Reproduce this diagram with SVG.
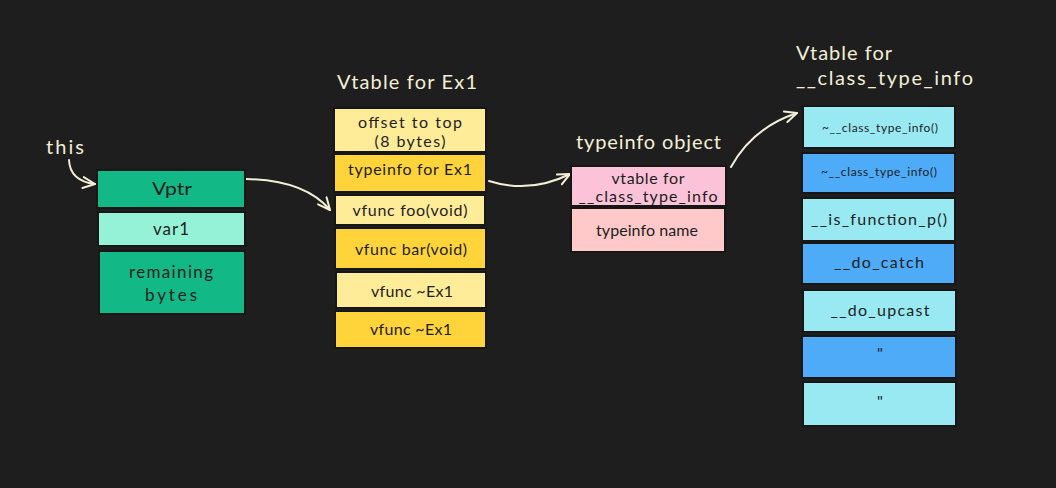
<svg xmlns="http://www.w3.org/2000/svg" width="1056" height="488" viewBox="0 0 1056 488">
<defs>
<marker id="ah" viewBox="0 0 14 14" refX="13" refY="7" markerWidth="14" markerHeight="14" markerUnits="userSpaceOnUse" orient="auto">
<path d="M1,1.5 L13,7 L1,12.5" fill="none" stroke="#f2efd6" stroke-width="2" stroke-linecap="round" stroke-linejoin="round"/>
</marker>
<style>
.box{stroke:#161616;stroke-width:2}
.t{font-family:"Lato","Liberation Sans",sans-serif;fill:#1e1e1e;text-anchor:middle;dominant-baseline:central}
.title{font-family:"Lato","Liberation Sans",sans-serif;fill:#f2efd6;font-size:20px}
.conn{fill:none;stroke:#f2efd6;stroke-width:2;stroke-linecap:round;marker-end:url(#ah)}
.g1{fill:#12b886}.g2{fill:#96f2d7}
.y1{fill:#ffec99}.y2{fill:#ffd43b}
.pk{fill:#fcc2d7}.rd{fill:#ffc9c9}
.c1{fill:#99e9f2}.b1{fill:#4dabf7}
</style>
</defs>
<rect width="1056" height="488" fill="#1e1e1e"/>

<text class="title" x="46" y="154" textLength="38" lengthAdjust="spacing">this</text>
<text class="title" x="337" y="89" textLength="140" lengthAdjust="spacing">Vtable for Ex1</text>
<text class="title" x="576" y="149" textLength="145" lengthAdjust="spacing">typeinfo object</text>
<text class="title" x="796" y="60" textLength="96" lengthAdjust="spacing">Vtable for</text>
<text class="title" x="796" y="85" textLength="177" lengthAdjust="spacing">__class_type_info</text>

<g id="connectors">
<path class="conn" d="M69,160 Q70,181 95,184"/>
<path class="conn" d="M246,179 Q305,180 330,210"/>
<path class="conn" d="M489,181 Q530,194 570,174"/>
<path class="conn" d="M731,167 Q752,128 797,113"/>
</g>

<g id="obj-vptr"><rect class="box g1" x="97" y="170" width="148" height="38"/><text class="t" x="172" y="188" font-size="18" textLength="40" lengthAdjust="spacingAndGlyphs">Vptr</text></g>
<g id="obj-var1"><rect class="box g2" x="98" y="212" width="147" height="34"/><text class="t" x="171" y="228" font-size="17" textLength="36" lengthAdjust="spacing">var1</text></g>
<g id="obj-rem"><rect class="box g1" x="99" y="251" width="146" height="63"/><text class="t" x="171" y="271" font-size="17" textLength="84" lengthAdjust="spacing">remaining</text><text class="t" x="171" y="294" font-size="17" textLength="52" lengthAdjust="spacing">bytes</text></g>

<g id="vt-offset"><rect class="box y1" x="334" y="108" width="152" height="44"/><text class="t" x="410" y="121" font-size="16" textLength="104" lengthAdjust="spacing">offset to top</text><text class="t" x="410" y="140" font-size="16" textLength="71" lengthAdjust="spacing">(8 bytes)</text></g>
<g id="vt-typeinfo"><rect class="box y2" x="334" y="154" width="152" height="38"/><text class="t" x="410" y="168" font-size="16" textLength="124" lengthAdjust="spacing">typeinfo for Ex1</text></g>
<g id="vt-foo"><rect class="box y1" x="335" y="195" width="150" height="30"/><text class="t" x="410" y="209" font-size="16" textLength="115" lengthAdjust="spacing">vfunc foo(void)</text></g>
<g id="vt-bar"><rect class="box y2" x="335" y="228" width="151" height="41"/><text class="t" x="411" y="248" font-size="16" textLength="112" lengthAdjust="spacing">vfunc bar(void)</text></g>
<g id="vt-dtor1"><rect class="box y1" x="336" y="272" width="150" height="36"/><text class="t" x="412" y="290" font-size="16" textLength="82" lengthAdjust="spacing">vfunc ~Ex1</text></g>
<g id="vt-dtor2"><rect class="box y2" x="335" y="311" width="151" height="37"/><text class="t" x="411" y="328" font-size="16" textLength="82" lengthAdjust="spacing">vfunc ~Ex1</text></g>

<g id="ti-vtable"><rect class="box pk" x="571" y="166" width="155" height="40"/><text class="t" x="648" y="177" font-size="16" textLength="73" lengthAdjust="spacing">vtable for</text><text class="t" x="648" y="195" font-size="16" textLength="139" lengthAdjust="spacing">__class_type_info</text></g>
<g id="ti-name"><rect class="box rd" x="571" y="208" width="154" height="44"/><text class="t" x="647" y="229" font-size="16" textLength="102" lengthAdjust="spacing">typeinfo name</text></g>

<g id="ct-dtor1"><rect class="box c1" x="803" y="106" width="152" height="42"/><text class="t" x="880" y="127" font-size="12" textLength="116" lengthAdjust="spacing">~__class_type_info()</text></g>
<g id="ct-dtor2"><rect class="box b1" x="802" y="153" width="153" height="40"/><text class="t" x="879" y="171" font-size="12" textLength="116" lengthAdjust="spacing">~__class_type_info()</text></g>
<g id="ct-isfunc"><rect class="box c1" x="802" y="198" width="153" height="43"/><text class="t" x="879" y="218" font-size="16" textLength="136" lengthAdjust="spacing">__is_function_p()</text></g>
<g id="ct-catch"><rect class="box b1" x="802" y="243" width="153" height="41"/><text class="t" x="879" y="261" font-size="16" textLength="90" lengthAdjust="spacing">__do_catch</text></g>
<g id="ct-upcast"><rect class="box c1" x="803" y="290" width="153" height="42"/><text class="t" x="880" y="309" font-size="16" textLength="99" lengthAdjust="spacing">__do_upcast</text></g>
<g id="ct-q1"><rect class="box b1" x="802" y="336" width="154" height="42"/><text class="t" x="880" y="352" font-size="16">"</text></g>
<g id="ct-q2"><rect class="box c1" x="803" y="382" width="153" height="44"/><text class="t" x="880" y="400" font-size="16">"</text></g>
</svg>
